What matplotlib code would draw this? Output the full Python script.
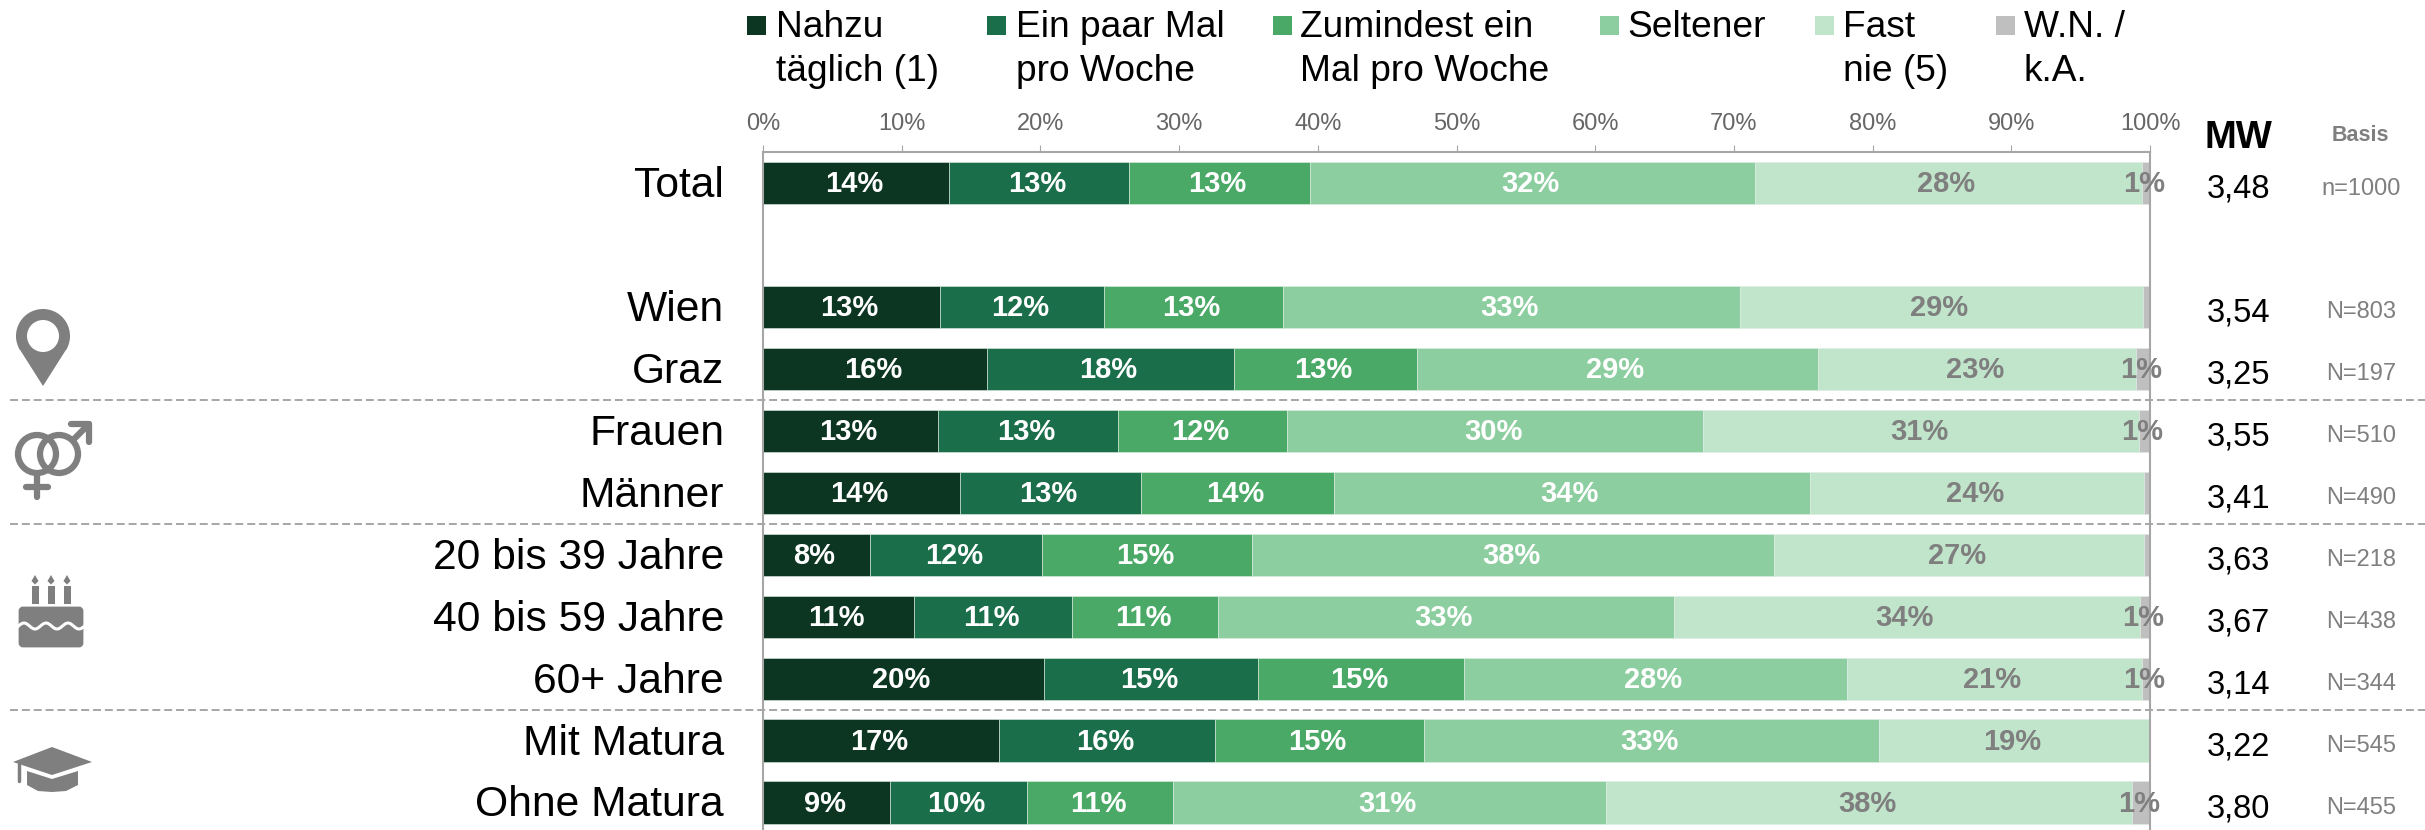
import numpy as np
import matplotlib
matplotlib.use('Agg')
import matplotlib.pyplot as plt
from matplotlib.patches import Circle, FancyBboxPatch, Polygon, Rectangle, Wedge
from matplotlib.transforms import ScaledTranslation

plt.rcParams['font.family'] = ['Liberation Sans', 'DejaVu Sans']

categories = ['Total', 'Wien', 'Graz', 'Frauen', 'Männer', '20 bis 39 Jahre',
              '40 bis 59 Jahre', '60+ Jahre', 'Mit Matura', 'Ohne Matura']
rows = [0, 2, 3, 4, 5, 6, 7, 8, 9, 10]

nahzu = [13.43, 12.76, 16.17, 12.62, 14.23, 7.74, 10.91, 20.28, 17.02, 9.18]
paar = [12.98, 11.83, 17.76, 13.00, 13.02, 12.38, 11.37, 15.41, 15.59, 9.85]
zumindest = [13.03, 12.92, 13.22, 12.16, 13.92, 15.13, 10.52, 14.85, 15.02, 10.53]
seltener = [32.08, 32.93, 28.89, 30.00, 34.30, 37.65, 32.88, 27.62, 32.84, 31.22]
fast_nie = [27.88, 29.06, 22.96, 31.42, 24.10, 26.65, 33.60, 21.24, 19.53, 37.92]
wn_ka = [0.60, 0.50, 1.00, 0.80, 0.43, 0.45, 0.72, 0.60, 0.00, 1.30]

lab_nahzu = ['14%', '13%', '16%', '13%', '14%', '8%', '11%', '20%', '17%', '9%']
lab_paar = ['13%', '12%', '18%', '13%', '13%', '12%', '11%', '15%', '16%', '10%']
lab_zumindest = ['13%', '13%', '13%', '12%', '14%', '15%', '11%', '15%', '15%', '11%']
lab_seltener = ['32%', '33%', '29%', '30%', '34%', '38%', '33%', '28%', '33%', '31%']
lab_fast = ['28%', '29%', '23%', '31%', '24%', '27%', '34%', '21%', '19%', '38%']
lab_wn = ['1%', '', '1%', '1%', '', '', '1%', '1%', '', '1%']

mw = ['3,48', '3,54', '3,25', '3,55', '3,41', '3,63', '3,67', '3,14', '3,22', '3,80']
basis = ['n=1000', 'N=803', 'N=197', 'N=510', 'N=490', 'N=218', 'N=438', 'N=344', 'N=545', 'N=455']

legend_labels = ['Nahzu\ntäglich (1)', 'Ein paar Mal\npro Woche', 'Zumindest ein\nMal pro Woche',
                 'Seltener', 'Fast\nnie (5)', 'W.N. /\nk.A.']
colors = ['#0c3522', '#1a6e4a', '#4aa966', '#8dcea0', '#c1e5cb', '#bfbfbf']
text_colors = ['white', 'white', 'white', 'white', '#7f7f7f', '#7f7f7f']
GRIS = '#a6a6a6'
ICONO = '#7f7f7f'

fig = plt.figure(figsize=(24.25, 8.3), dpi=100)

# capa en pixeles para leyenda e iconos
ov = fig.add_axes([0, 0, 1, 1])
ov.set_xlim(0, 2425)
ov.set_ylim(830, 0)
ov.axis('off')

ax = fig.add_axes([763 / 2425, 0, 1387 / 2425, 678 / 830])
series = [nahzu, paar, zumindest, seltener, fast_nie, wn_ka]
labels = [lab_nahzu, lab_paar, lab_zumindest, lab_seltener, lab_fast, lab_wn]
left = np.zeros(len(rows))
for vals, labs, col, tcol in zip(series, labels, colors, text_colors):
    bars = ax.barh(rows, vals, left=left, height=0.68, color=col, edgecolor='#dfeee4', linewidth=0.4)
    textos = ax.bar_label(bars, labels=labs, label_type='center', color=tcol, fontsize=21, fontweight='bold')
    for t in textos:
        t.xyann = (-1.5, -1)
    left += np.array(vals)

ax.set_xlim(0, 100)
ax.set_ylim(10.444, -0.5)
ax.xaxis.tick_top()
ax.set_xticks(range(0, 101, 10))
ax.set_xticklabels([f'{i}%' for i in range(0, 101, 10)])
ax.tick_params(axis='x', length=5, width=0.8, color=GRIS, labelsize=17, labelcolor='#666666', pad=7)
ax.set_yticks(rows)
ax.set_yticklabels(categories)
ax.tick_params(axis='y', length=0, labelsize=30.7, pad=28)
for lbl in ax.get_yticklabels():
    lbl.set_transform(lbl.get_transform() + ScaledTranslation(0, 1.5 / 100, fig.dpi_scale_trans))
ax.spines['bottom'].set_visible(False)
for s in ['left', 'right', 'top']:
    ax.spines[s].set_color(GRIS)
    ax.spines[s].set_linewidth(1.5)

for r, m, b in zip(rows, mw, basis):
    ax.text(106.4, r + 0.1, m, ha='center', va='center', fontsize=23.5, color='black', clip_on=False)
    ax.text(115.2, r + 0.09, b, ha='center', va='center', fontsize=17, color='#7f7f7f', clip_on=False)

ax.text(106.4, -0.725, 'MW', ha='center', va='center', fontsize=27.5, fontweight='bold', clip_on=False)
ax.text(115.2, -0.77, 'Basis', ha='center', va='center', fontsize=15.5, fontweight='bold', color='#7f7f7f', clip_on=False)

for y in [3.5, 5.5, 8.5]:
    ax.plot([-54.3, 120], [y, y], color=GRIS, linewidth=1.4, dashes=(4.1, 2.0), clip_on=False)
ax.set_xlim(0, 100)

# leyenda
swatch_x = [747, 987, 1273, 1600, 1815, 1996]
text_x = [776, 1016, 1300, 1627, 1843, 2024]
for sx, tx, lab, col in zip(swatch_x, text_x, legend_labels, colors):
    ov.add_patch(Rectangle((sx, 16), 19, 19, facecolor=col, edgecolor='none'))
    ov.text(tx, 10, lab, ha='left', va='top', fontsize=26.7, color='black', linespacing=1.32)

# pin
ov.add_patch(Wedge((43, 336), 27, 150, 30, facecolor=ICONO, edgecolor='none'))
ov.add_patch(Polygon([(19.5, 349), (43, 386), (66.5, 349), (70, 336), (16, 336)], facecolor=ICONO, edgecolor='none'))
ov.add_patch(Circle((43, 336), 16, facecolor='white', edgecolor='none'))

# generos
ov.add_patch(Circle((37, 454), 19, facecolor='none', edgecolor=ICONO, linewidth=4.5))
ov.add_patch(Circle((59, 454), 19, facecolor='none', edgecolor=ICONO, linewidth=4.5))
ov.plot([37, 37], [474, 497], color=ICONO, linewidth=4.5, solid_capstyle='round')
ov.plot([26, 48], [487, 487], color=ICONO, linewidth=4.5, solid_capstyle='round')
ov.plot([73, 89], [440, 424], color=ICONO, linewidth=4.5, solid_capstyle='round')
ov.plot([71, 89, 89], [424, 424, 442], color=ICONO, linewidth=4.5, solid_capstyle='round')

# torta
ov.add_patch(FancyBboxPatch((20, 608), 62, 38, boxstyle='round,pad=0,rounding_size=3', facecolor=ICONO, edgecolor=ICONO, linewidth=2))
xw = np.linspace(18, 84, 80)
ov.plot(xw, 626 + 3 * np.cos((xw - 35) * 2 * np.pi / 22), color='white', linewidth=2.2)
for cx in [35, 51, 67]:
    ov.add_patch(Rectangle((cx - 3.5, 586), 7, 18, facecolor=ICONO, edgecolor='none'))
    ov.add_patch(Polygon([(cx, 575), (cx + 3.5, 581), (cx, 584.5), (cx - 3.5, 581)], facecolor=ICONO, edgecolor='none'))

# birrete
ov.add_patch(Polygon([(27, 771), (52, 779), (78, 771), (78, 785), (66, 791), (52, 792), (38, 791), (27, 785)], facecolor=ICONO, edgecolor='none'))
ov.add_patch(Polygon([(13, 762), (52, 747), (92, 762), (52, 775)], facecolor=ICONO, edgecolor='none'))
ov.plot([19, 19], [764, 781], color=ICONO, linewidth=2.5, solid_capstyle='round')

fig.savefig('out.png', dpi=100)
